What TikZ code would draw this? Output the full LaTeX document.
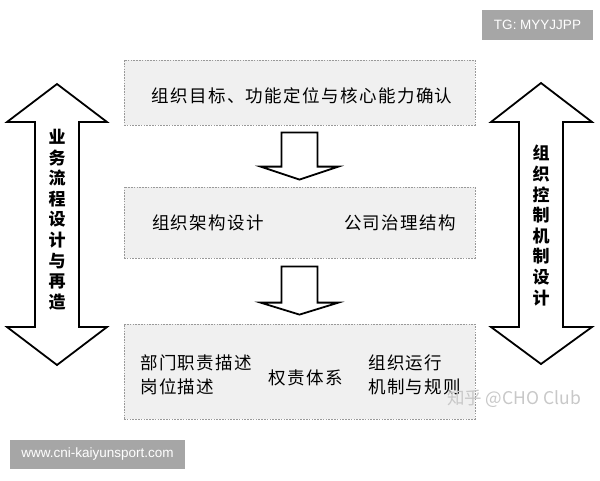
\documentclass[tikz,border=0pt]{standalone}
\usepackage{fontspec}
\usetikzlibrary{calc}
\newfontfamily\cjk[LetterSpace=8]{Noto Sans CJK SC}
\newfontfamily\cjkv{Noto Sans CJK SC}
\newfontfamily\latf{Liberation Sans}
\definecolor{boxfill}{HTML}{F0F0F0}
\definecolor{boxline}{HTML}{999999}
\definecolor{tagfill}{HTML}{A6A6A6}
\definecolor{wmark}{HTML}{C8C8C8}
\tikzset{
  stagebox/.style={draw=boxline, fill=boxfill, line width=0.8pt, dash pattern=on 1.6pt off 1.2pt, inner sep=0pt},
  boxtext/.style={font=\cjk\fontsize{17.5}{24}\selectfont, inner sep=0pt, text=black},
  blockarrow/.style={draw=black, fill=white, line width=1.8pt, line join=miter},
  vtext/.style={font=\cjkv\bfseries\fontsize{17}{20.6}\selectfont, align=center, inner sep=0pt},
  tag/.style={fill=tagfill, text=white, inner sep=0pt, font=\latf\fontsize{13.5}{16}\selectfont}
}
\begin{document}
\begin{tikzpicture}[x=1pt, y=-1pt]
\useasboundingbox (0,0) rectangle (600,480);
\fill[white] (0,0) rectangle (600,480);

% stage boxes
\node[stagebox, minimum width=351pt, minimum height=65pt] (b1) at (299.5,92.5) {};
\node[stagebox, minimum width=351pt, minimum height=71pt] (b2) at (299.5,222.5) {};
\node[stagebox, minimum width=351pt, minimum height=95pt] (b3) at (299.5,371.5) {};

% box texts
\node[boxtext] (t1) at (302,96) {组织目标、功能定位与核心能力确认};
\node[boxtext] (t2a) at (208,223) {组织架构设计};
\node[boxtext] (t2b) at (400,223) {公司治理结构};
\node[boxtext, anchor=west, align=left] (t3a) at (140,375) {部门职责描述\\岗位描述};
\node[boxtext] (t3b) at (306,378) {权责体系};
\node[boxtext, anchor=west, align=left] (t3c) at (368,375) {组织运行\\机制与规则};

% block arrows between stages
\coordinate (a1s) at ($(b1.south)+(0,7)$);
\coordinate (a1t) at ($(b2.north)+(0,-7)$);
\coordinate (a2s) at ($(b2.south)+(0,8)$);
\coordinate (a2t) at ($(b3.north)+(0,-9)$);
\draw[blockarrow] let \p1=(a1s), \p2=(a1t) in
  (\x1-18pt,\y1) -- (\x1+18pt,\y1) -- (\x1+18pt,\y2+13pt) -- (\x1+39pt,\y2+13pt)
  -- (\x2,\y2) -- (\x1-39pt,\y2+13pt) -- (\x1-18pt,\y2+13pt) -- cycle;
\draw[blockarrow] let \p1=(a2s), \p2=(a2t) in
  (\x1-18pt,\y1) -- (\x1+18pt,\y1) -- (\x1+18pt,\y2+12pt) -- (\x1+39pt,\y2+12pt)
  -- (\x2,\y2) -- (\x1-39pt,\y2+12pt) -- (\x1-18pt,\y2+12pt) -- cycle;

% side double arrows
\draw[blockarrow] (57,84) -- (107,122) -- (79,122) -- (79,327) -- (107,327) -- (57,365)
  -- (7,327) -- (35,327) -- (35,122) -- (7,122) -- cycle;
\draw[blockarrow] (541,83) -- (592,122) -- (563,122) -- (563,327) -- (592,327) -- (541,364)
  -- (491,327) -- (519,327) -- (519,122) -- (491,122) -- cycle;
\node[vtext] (lv) at (57,219.5) {业\\务\\流\\程\\设\\计\\与\\再\\造};
\node[vtext] (rv) at (541,225.5) {组\\织\\控\\制\\机\\制\\设\\计};

% tags and watermark
\node[tag, minimum width=111pt, minimum height=30pt] (tg) at (537.5,25) {TG: MYYJJPP};
\node[tag, minimum width=175pt, minimum height=29pt] (www) at (97.5,454.5) {www.cni-kaiyunsport.com};
\node[font=\cjkv\fontsize{17.5}{20}\selectfont, text=wmark, inner sep=0pt] (wm) at (514,399) {知乎 @CHO Club};
\end{tikzpicture}
\end{document}
